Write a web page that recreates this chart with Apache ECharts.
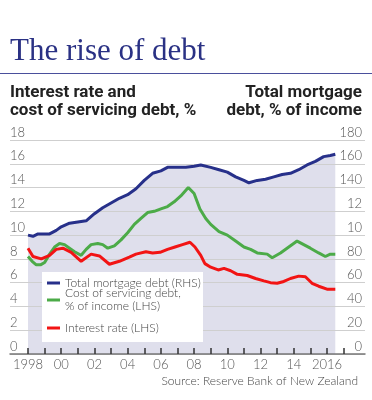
<!DOCTYPE html>
<html>
<head>
<meta charset="utf-8">
<script src="https://cdn.jsdelivr.net/npm/echarts@6/dist/echarts.min.js"></script>
<style>
html,body{margin:0;padding:0;background:#fff;}
#chart{width:372px;height:400px;}
</style>
</head>
<body>
<div id="chart"></div>
<script>
// Total mortgage debt, % of income (RHS)
const debtYears  = [1998.0,1998.3,1998.6,1999.0,1999.3,1999.7,2000.0,2000.5,2001.0,2001.5,2002.0,2002.5,2003.0,2003.5,2004.0,2004.5,2005.0,2005.5,2006.0,2006.4,2007.0,2007.5,2008.0,2008.4,2009.0,2009.5,2010.0,2010.5,2011.0,2011.3,2011.8,2012.3,2012.8,2013.3,2013.8,2014.3,2014.8,2015.3,2015.8,2016.2,2016.5];
const debtValues = [100,99,101,101,101,104,107,110,111,112,118,123,127,131,134,139,146,152,154,157,157,157,158,159,157,155,153,149,146,144,146,147,149,151,152,155,159,162,166,167,168];
// Cost of servicing debt, % of income (LHS)
const costYears  = [1998.0,1998.25,1998.5,1998.75,1999.0,1999.3,1999.6,1999.9,2000.2,2000.5,2000.8,2001.2,2001.5,2001.8,2002.2,2002.5,2002.8,2003.2,2003.6,2004.0,2004.4,2004.8,2005.2,2005.6,2006.0,2006.4,2006.8,2007.2,2007.65,2008.0,2008.35,2008.7,2009.0,2009.5,2010.0,2010.5,2011.0,2011.4,2011.8,2012.4,2012.7,2013.2,2013.7,2014.2,2014.6,2015.0,2015.5,2015.9,2016.2,2016.5];
const costValues = [8.2,7.8,7.5,7.5,7.7,8.4,9.0,9.3,9.2,8.9,8.6,8.3,8.8,9.2,9.3,9.2,8.9,9.1,9.6,10.2,10.9,11.4,11.9,12.0,12.2,12.4,12.8,13.3,14.0,13.5,12.2,11.4,10.9,10.3,10.0,9.5,9.0,8.8,8.5,8.4,8.1,8.5,9.0,9.5,9.2,8.9,8.5,8.2,8.4,8.4];
// Interest rate (LHS)
const rateYears  = [1998.0,1998.3,1998.8,1999.3,1999.7,2000.1,2000.6,2001.2,2001.8,2002.3,2002.9,2003.5,2004.1,2004.5,2005.1,2005.5,2005.95,2006.4,2006.85,2007.3,2007.75,2008.05,2008.4,2008.65,2009.0,2009.45,2009.8,2010.2,2010.6,2011.2,2011.7,2012.2,2012.6,2013.0,2013.4,2013.8,2014.3,2014.7,2015.1,2015.5,2016.0,2016.5];
const rateValues = [8.9,8.2,8.0,8.3,8.8,8.9,8.55,7.8,8.4,8.25,7.55,7.8,8.15,8.4,8.6,8.5,8.55,8.8,9.0,9.2,9.4,9.0,8.3,7.6,7.3,7.07,7.2,7.0,6.7,6.6,6.35,6.15,6.0,5.95,6.1,6.35,6.55,6.5,5.95,5.7,5.45,5.45];

const seriesNames = ['Total mortgage debt (RHS)', 'Cost of servicing debt,\n% of income (LHS)', 'Interest rate (LHS)'];
const xTickLabels = ['1998','00','02','04','06','08','10','12','14','2016'];
const leftTickLabels = ['0','2','4','6','8','10','12','14','16','18'];
const rightTickLabels = ['0','20','40','60','80','10','12','140','160','180'];

const pairs = (xs, ys) => xs.map((x, i) => [x, ys[i]]);
const LIGHT = 'Lato';
const chart = echarts.init(document.getElementById('chart'));

chart.setOption({
  animation: false,
  backgroundColor: '#fff',
  title: [
    { text: 'The rise of debt', left: 10, top: 36, padding: 0,
      textStyle: { fontFamily: 'Liberation Serif', fontSize: 31, fontWeight: 'normal', color: '#2a3184' } },
    { text: 'Interest rate and\ncost of servicing debt, %', left: 10, top: 84, padding: 0,
      textStyle: { fontFamily: 'Roboto', fontSize: 17, fontWeight: 'bold', color: '#222', lineHeight: 18 } },
    { text: 'Total mortgage\ndebt, % of income', left: 362, top: 84, padding: 0, textAlign: 'right',
      textStyle: { fontFamily: 'Roboto', fontSize: 17, fontWeight: 'bold', color: '#222', lineHeight: 18 } },
    { text: 'Source: Reserve Bank of New Zealand', right: 14, top: 374, padding: 0,
      textStyle: { fontFamily: LIGHT, fontSize: 12, fontWeight: 300, color: '#444', lineHeight: 14 } }
  ],
  graphic: [
    { type: 'line', z: 5, shape: { x1: 0, y1: 73.5, x2: 372, y2: 73.5 }, style: { stroke: '#4a4f9c', lineWidth: 1 } },
    { type: 'rect', z: 5, shape: { x: 42, y: 272, width: 161, height: 70 }, style: { fill: '#ffffff' } }
  ],
  legend: {
    orient: 'vertical', left: 47, top: 276.5, padding: 0, z: 6,
    itemGap: -9, itemWidth: 13, itemHeight: 3, icon: 'rect', selectedMode: false,
    textStyle: { fontFamily: LIGHT, fontWeight: 300, fontSize: 12, color: '#444', lineHeight: 13 },
    data: [
      { name: seriesNames[0], textStyle: { padding: 0 } },
      { name: seriesNames[1], textStyle: { padding: [13, 0, 0, 0] } },
      { name: seriesNames[2], textStyle: { padding: [11, 0, 11, 0] } }
    ]
  },
  grid: [
    { left: 10, right: 7, top: 140, bottom: 46 },
    { left: 28, right: 28.4, top: 140, bottom: 46 }
  ],
  xAxis: [
    { gridIndex: 0, type: 'value', min: 0, max: 1, z: 2,
      axisLine: { show: true, lineStyle: { color: '#777', width: 1.5 } },
      axisTick: { show: false }, axisLabel: { show: false }, splitLine: { show: false } },
    { gridIndex: 1, type: 'value', min: 1998, max: 2017, interval: 1, z: 3,
      axisLine: { show: false },
      axisTick: { show: true, inside: true, length: 6, lineStyle: { color: '#333', width: 1.5 } },
      axisLabel: { margin: 4, fontFamily: LIGHT, fontWeight: 300, fontSize: 13, color: '#555',
        formatter: v => { const k = v - 1998; return (k % 2 === 0 && k / 2 < xTickLabels.length) ? xTickLabels[k / 2] : ''; } },
      splitLine: { show: false } }
  ],
  yAxis: [
    { gridIndex: 0, type: 'value', min: 0, max: 18, interval: 2, position: 'left', z: 2,
      axisLine: { show: false }, axisTick: { show: false },
      axisLabel: { inside: true, margin: 0, align: 'left', verticalAlign: 'bottom', padding: [0, 0, 1, 0],
        fontFamily: LIGHT, fontWeight: 300, fontSize: 13, color: '#555',
        formatter: v => leftTickLabels[Math.round(v / 2)] },
      splitLine: { show: true, lineStyle: { color: '#cfcfcf', width: 1 } } },
    { gridIndex: 0, type: 'value', min: 0, max: 180, interval: 20, position: 'right', z: 2,
      axisLine: { show: false }, axisTick: { show: false },
      axisLabel: { inside: true, margin: 3, align: 'right', verticalAlign: 'bottom', padding: [0, 0, 1, 0],
        fontFamily: LIGHT, fontWeight: 300, fontSize: 13, color: '#555',
        formatter: v => rightTickLabels[Math.round(v / 20)] },
      splitLine: { show: false } },
    { gridIndex: 1, type: 'value', min: 0, max: 18, show: false },
    { gridIndex: 1, type: 'value', min: 0, max: 180, show: false }
  ],
  series: [
    { name: 'area', type: 'line', xAxisIndex: 1, yAxisIndex: 3, z: 1, silent: true,
      data: pairs(debtYears, debtValues), showSymbol: false,
      lineStyle: { width: 0, opacity: 0 }, areaStyle: { color: '#dfdfec', opacity: 1 } },
    { name: seriesNames[0], type: 'line', xAxisIndex: 1, yAxisIndex: 3, z: 3,
      data: pairs(debtYears, debtValues), showSymbol: false, itemStyle: { color: '#27308a' },
      lineStyle: { width: 3, color: '#27308a' } },
    { name: seriesNames[1], type: 'line', xAxisIndex: 1, yAxisIndex: 2, z: 3,
      data: pairs(costYears, costValues), showSymbol: false, itemStyle: { color: '#4cab48' },
      lineStyle: { width: 3, color: '#4cab48' } },
    { name: seriesNames[2], type: 'line', xAxisIndex: 1, yAxisIndex: 2, z: 3,
      data: pairs(rateYears, rateValues), showSymbol: false, itemStyle: { color: '#f21414' },
      lineStyle: { width: 3, color: '#f21414' } }
  ]
});
</script>
</body>
</html>
